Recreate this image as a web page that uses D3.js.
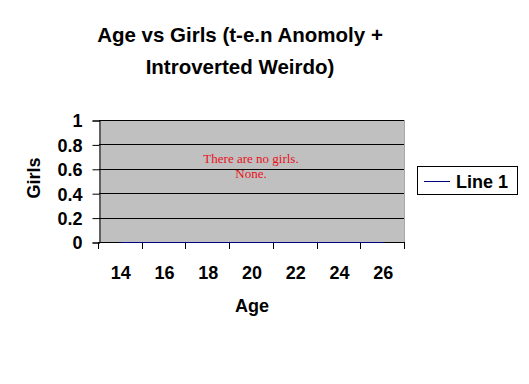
<!DOCTYPE html>
<html>
<head>
<meta charset="utf-8">
<script src="https://cdn.jsdelivr.net/npm/d3@7"></script>
<style>
  html, body { margin: 0; padding: 0; background: #fff; }
  svg { display: block; }
</style>
</head>
<body>
<script>
const categories = ["14", "16", "18", "20", "22", "24", "26"];
const line1Values = [0, 0, 0, 0, 0, 0, 0];
const yTicks = [0, 0.2, 0.4, 0.6, 0.8, 1];
const titleLines = ["Age vs Girls (t-e.n Anomoly +", "Introverted Weirdo)"];
const noteLines = ["There are no girls.", "None."];
const seriesName = "Line 1";

const W = 529, H = 384;
const plot = { left: 99, right: 405, top: 120, bottom: 242 };
const sans = "'Liberation Sans', Arial, sans-serif";
const serif = "'Liberation Serif', 'Times New Roman', serif";

const svg = d3.select("body").append("svg").attr("width", W).attr("height", H);
svg.append("rect").attr("width", W).attr("height", H).attr("fill", "#fff");

const x = d3.scaleBand().domain(categories).range([plot.left, plot.right]).padding(0);
const y = d3.scaleLinear().domain([0, 1]).range([plot.bottom, plot.top]);

// plot background
svg.append("rect")
  .attr("x", plot.left).attr("y", plot.top)
  .attr("width", plot.right - plot.left).attr("height", plot.bottom - plot.top)
  .attr("fill", "#c0c0c0");

// gridlines
svg.append("g").selectAll("line").data(yTicks).join("line")
  .attr("x1", plot.left).attr("x2", plot.right)
  .attr("y1", d => Math.round(y(d)) + 0.5).attr("y2", d => Math.round(y(d)) + 0.5)
  .attr("stroke", "#000").attr("stroke-width", 1);

// right border of plot area
svg.append("line")
  .attr("x1", plot.right - 0.5).attr("x2", plot.right - 0.5)
  .attr("y1", plot.top).attr("y2", plot.bottom)
  .attr("stroke", "#a8a8a8");

// y axis
const yAxis = d3.axisLeft(y).tickValues(yTicks).tickSize(7).tickPadding(10)
  .tickFormat(d => d3.format("")(+d.toFixed(1)));
const gy = svg.append("g").attr("transform", `translate(${plot.left + 0.5},0.5)`).call(yAxis);
gy.select(".domain").attr("stroke", "#000");
gy.selectAll(".tick line").attr("stroke", "#000");
gy.selectAll(".tick text")
  .attr("font-family", sans).attr("font-weight", "bold").attr("font-size", 18)
  .attr("fill", "#000").attr("dy", "0.36em");

// x axis: ticks at category boundaries
const boundaries = categories.map(c => x(c)).concat([x(categories[categories.length - 1]) + x.bandwidth()]);
const gx = svg.append("g");
gx.append("line")
  .attr("x1", plot.left).attr("x2", plot.right)
  .attr("y1", plot.bottom + 0.5).attr("y2", plot.bottom + 0.5)
  .attr("stroke", "#000");
gx.selectAll("line.tk").data(boundaries).join("line").attr("class", "tk")
  .attr("x1", d => Math.round(d) - 0.5).attr("x2", d => Math.round(d) - 0.5)
  .attr("y1", plot.bottom).attr("y2", plot.bottom + 7)
  .attr("stroke", "#000");
gx.selectAll("text").data(categories).join("text")
  .attr("x", d => x(d) + x.bandwidth() / 2)
  .attr("y", 279)
  .attr("text-anchor", "middle")
  .attr("font-family", sans).attr("font-weight", "bold").attr("font-size", 18)
  .text(d => d);

// data line
const line = d3.line()
  .x((d, i) => x(categories[i]) + x.bandwidth() / 2)
  .y(d => y(d));
svg.append("path").datum(line1Values)
  .attr("d", line)
  .attr("transform", "translate(0,0.5)")
  .attr("fill", "none").attr("stroke", "#000080").attr("stroke-width", 1);

// annotation
svg.append("g").selectAll("text").data(noteLines).join("text")
  .attr("x", 251).attr("y", (d, i) => 163 + i * 15)
  .attr("text-anchor", "middle")
  .attr("font-family", serif).attr("font-size", 13).attr("fill", "#e8101c")
  .text(d => d);

// title
svg.append("g").selectAll("text").data(titleLines).join("text")
  .attr("x", 240).attr("y", (d, i) => 42 + i * 32)
  .attr("text-anchor", "middle")
  .attr("font-family", sans).attr("font-weight", "bold").attr("font-size", 20.5)
  .text(d => d);

// axis titles
svg.append("text")
  .attr("x", 252).attr("y", 312)
  .attr("text-anchor", "middle")
  .attr("font-family", sans).attr("font-weight", "bold").attr("font-size", 18)
  .text("Age");
svg.append("text")
  .attr("transform", "translate(40,178) rotate(-90)")
  .attr("text-anchor", "middle")
  .attr("font-family", sans).attr("font-weight", "bold").attr("font-size", 18)
  .text("Girls");

// legend
const lg = svg.append("g");
lg.append("rect")
  .attr("x", 417.5).attr("y", 166.5).attr("width", 100).attr("height", 28)
  .attr("fill", "#fff").attr("stroke", "#000");
lg.append("line")
  .attr("x1", 424).attr("x2", 450).attr("y1", 181.5).attr("y2", 181.5)
  .attr("stroke", "#000080");
lg.append("text")
  .attr("x", 456).attr("y", 188)
  .attr("font-family", sans).attr("font-weight", "bold").attr("font-size", 18)
  .text(seriesName);
</script>
</body>
</html>
